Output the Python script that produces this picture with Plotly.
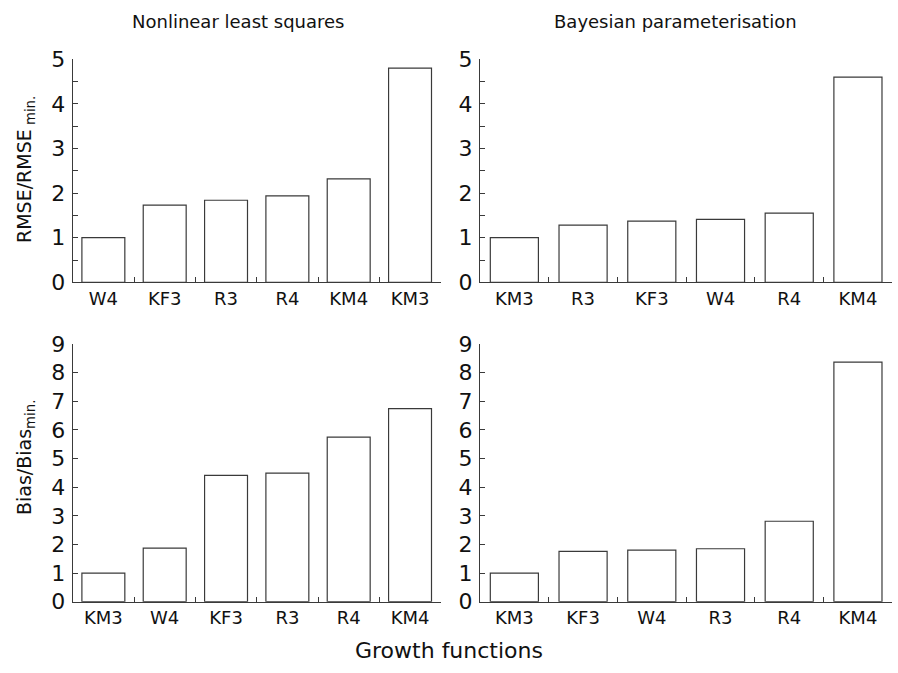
import plotly.graph_objects as go

# ---- data ----
nls_rmse_cats = ["W4", "KF3", "R3", "R4", "KM4", "KM3"]
nls_rmse_vals = [1.0, 1.73, 1.84, 1.94, 2.32, 4.80]

bay_rmse_cats = ["KM3", "R3", "KF3", "W4", "R4", "KM4"]
bay_rmse_vals = [1.0, 1.28, 1.37, 1.41, 1.55, 4.60]

nls_bias_cats = ["KM3", "W4", "KF3", "R3", "R4", "KM4"]
nls_bias_vals = [1.0, 1.87, 4.41, 4.49, 5.75, 6.74]

bay_bias_cats = ["KM3", "KF3", "W4", "R3", "R4", "KM4"]
bay_bias_vals = [1.0, 1.76, 1.80, 1.85, 2.81, 8.37]

col_titles = ["Nonlinear least squares", "Bayesian parameterisation"]
x_title = "Growth functions"
y_titles = ["RMSE/RMSE<sub> min.</sub>", "Bias/Bias<sub>min.</sub>"]

W, H = 898, 673
FONT = "DejaVu Sans"
LINE = "#3a3a3a"

fig = go.Figure()

panels = [
    (nls_rmse_cats, nls_rmse_vals, "x", "y"),
    (bay_rmse_cats, bay_rmse_vals, "x2", "y2"),
    (nls_bias_cats, nls_bias_vals, "x3", "y3"),
    (bay_bias_cats, bay_bias_vals, "x4", "y4"),
]
for cats, vals, xa, ya in panels:
    fig.add_trace(go.Bar(
        x=cats, y=vals, xaxis=xa, yaxis=ya, width=0.70,
        marker=dict(color="white", line=dict(color=LINE, width=1.2)),
        showlegend=False, hoverinfo="x+y",
    ))

left_dom = [72.7 / W, 440.7 / W]
right_dom = [480.0 / W, 892.3 / W]
top_dom = [1 - 282.3 / H, 1 - 59.3 / H]
bot_dom = [1 - 601.7 / H, 1 - 344.0 / H]

def xaxis(dom, anchor):
    return dict(
        domain=dom, anchor=anchor, type="category",
        showline=True, linecolor=LINE, linewidth=1.2,
        ticks="inside", tickson="boundaries", ticklen=5, tickcolor=LINE, tickwidth=1.2,
        showgrid=False, zeroline=False,
        tickfont=dict(family=FONT, size=18, color="#111"),
        range=[-0.5, 5.5],
    )

def yaxis(dom, anchor, top, minor):
    d = dict(
        domain=dom, anchor=anchor, range=[0, top], dtick=1, tick0=0,
        showline=True, linecolor=LINE, linewidth=1.2,
        ticks="inside", ticklen=5, tickcolor=LINE, tickwidth=1.2,
        showgrid=False, zeroline=False,
        tickfont=dict(family=FONT, size=22, color="#111"),
        ticklabelstandoff=2,
    )
    if minor:
        d["minor"] = dict(dtick=0.5, ticks="inside", ticklen=5, tickcolor=LINE, tickwidth=1.2, showgrid=False)
    return d

fig.update_layout(
    width=W, height=H,
    margin=dict(l=0, r=0, t=0, b=0, pad=0, autoexpand=False),
    paper_bgcolor="white", plot_bgcolor="white",
    bargap=0.3,
    xaxis=xaxis(left_dom, "y"),
    yaxis=yaxis(top_dom, "x", 5, True),
    xaxis2=xaxis(right_dom, "y2"),
    yaxis2=yaxis(top_dom, "x2", 5, True),
    xaxis3=xaxis(left_dom, "y3"),
    yaxis3=yaxis(bot_dom, "x3", 9, False),
    xaxis4=xaxis(right_dom, "y4"),
    yaxis4=yaxis(bot_dom, "x4", 9, False),
)

ann = []
ann.append(dict(text=col_titles[0], x=238 / W, y=1 - 21 / H, xref="paper", yref="paper",
                showarrow=False, font=dict(family=FONT, size=18, color="#111"),
                xanchor="center", yanchor="middle"))
ann.append(dict(text=col_titles[1], x=675 / W, y=1 - 21 / H, xref="paper", yref="paper",
                showarrow=False, font=dict(family=FONT, size=18, color="#111"),
                xanchor="center", yanchor="middle"))
ann.append(dict(text=x_title, x=449 / W, y=1 - 650 / H, xref="paper", yref="paper",
                showarrow=False, font=dict(family=FONT, size=22, color="#111"),
                xanchor="center", yanchor="middle"))
ann.append(dict(text=y_titles[0], x=25 / W, y=1 - 170 / H, xref="paper", yref="paper",
                showarrow=False, textangle=-90, font=dict(family=FONT, size=19, color="#111"),
                xanchor="center", yanchor="middle"))
ann.append(dict(text=y_titles[1], x=25 / W, y=1 - 458 / H, xref="paper", yref="paper",
                showarrow=False, textangle=-90, font=dict(family=FONT, size=19, color="#111"),
                xanchor="center", yanchor="middle"))
fig.update_layout(annotations=ann)

fig.write_html("out.html", config={"displayModeBar": False},
               post_script="document.body.style.margin='0';document.body.style.overflow='hidden';")
